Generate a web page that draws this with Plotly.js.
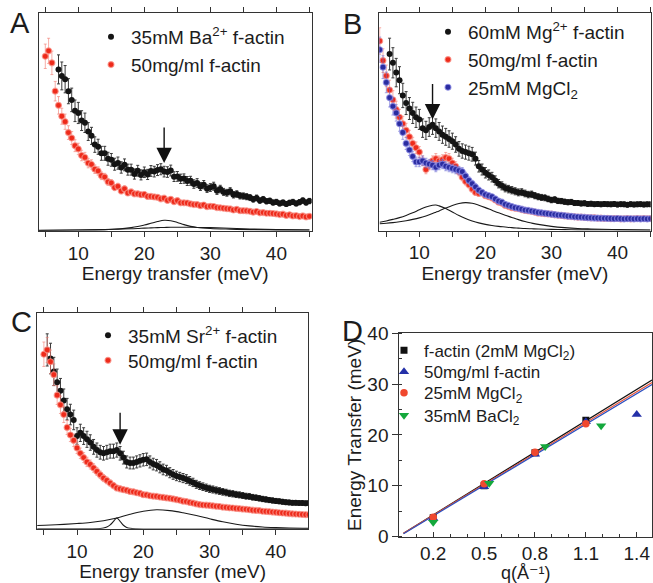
<!DOCTYPE html>
<html><head><meta charset="utf-8">
<script src="https://cdn.plot.ly/plotly-3.0.1.min.js"></script>
<style>html,body{margin:0;padding:0;background:#fff}#chart{width:653px;height:583px}</style>
</head><body><div id="chart"></div>
<script>
// ---- shared energy grid (meV) for panels A-C ----
const energy = [4,4.5,5,5.5,6,6.5,7,7.5,8,8.5,
 9,9.5,10,10.5,11,11.5,12,12.5,13,13.5,
 14,14.5,15,15.5,16,16.5,17,17.5,18,18.5,
 19,19.5,20,20.5,21,21.5,22,22.5,23,23.5,
 24,24.5,25,25.5,26,26.5,27,27.5,28,28.5,
 29,29.5,30,30.5,31,31.5,32,32.5,33,33.5,
 34,34.5,35,35.5,36,36.5,37,37.5,38,38.5,
 39,39.5,40,40.5,41,41.5,42,42.5,43,43.5,
 44,44.5,45];

// ---- Panel A (arb. units) ----
const aBa = [null,null,null,null,null,null,74,71,69.5,64,
 60,55,54,50.5,49.5,45.5,43.5,39.5,38.5,35.5,
 35.5,33,32.5,30.5,31,29,30.2,28,28,26,
 27.5,25.6,26.8,25.8,27.4,27.1,27.8,28.2,27.1,26.9,
 27.6,24.8,24.9,23.8,23.9,22.8,22.9,21.4,21.9,20.3,
 21.1,19.3,19.8,20.4,18.3,19.1,17.8,17.4,18.1,16.5,
 16.8,16,15.9,15.6,15.2,14.4,15,13.8,14.4,13.5,
 13.7,12.9,13.2,12.5,12.9,12.3,12.8,13.2,12.5,13.1,
 13.8,12.9,13.6];
const aRef = [null,null,80,82.5,77,64,57.5,52.5,50,45,
 42.5,39,37.5,34.5,33.6,31,30.4,28.2,27.4,25.2,
 24.6,22.4,21.9,19.8,20.3,18.2,19.2,17.3,17.8,16.9,
 16.9,16.5,16.6,15.7,15.7,15.5,15.3,14.6,14.9,13.9,
 14.4,13.3,13.8,12.8,12.8,12.7,12.3,12,12,11.5,
 11.8,11,11.2,11.1,10.6,10.5,10.3,10.1,10,9.5,
 9.8,9.2,9.2,9.1,8.9,8.5,8.8,8.2,8.3,8,
 8,7.9,7.7,7.4,7.6,7,7.3,6.8,6.9,6.5,
 6.8,6.3,6.6];
const aFitE = [4,10,14,16,18,19,20,21,22,23,24,25,26,27,28,30,33,36,40,45];
const aFitPeak = [0.2,0.3,0.5,0.8,1.4,1.9,2.6,3.4,4.2,4.8,4.6,3.8,2.8,2.0,1.5,1.0,0.7,0.5,0.4,0.3];
const aFitBroad = [0.1,0.3,0.5,0.7,0.9,1.0,1.2,1.3,1.4,1.5,1.6,1.6,1.6,1.6,1.5,1.4,1.1,0.8,0.5,0.3];

// ---- Panel B ----
const bMg = [null,null,null,81,77,72.5,69,62,58.5,56,
 54,52,51,47,46,47.5,48.5,47,45.5,44,
 43,42,41,39.5,37.5,36.5,36,35.5,35,33,
 29.5,28,26.5,25.5,24.5,23,21.5,20.5,19.5,19,
 18.5,18,17.5,17.6,17,16.5,16.6,16,15.5,15.2,
 15,14.5,14,14.2,13.6,13.5,13.2,13,13.1,12.6,
 12.6,12.4,12.5,12.2,12.3,12.1,12.2,12,12.2,12.1,
 12,12.2,11.9,12.1,12,11.8,12.1,11.9,12,12.1,
 11.9,12,12];
const bRef = [87,78,71,64.5,60,55.5,52,49,46,43,
 40,38,36,32,28,30,32,33,32,32.5,
 33.5,33,31,29.5,27,24.5,22.5,21,19,17.5,
 17,17.2,16,15.5,15,14,13,12.5,11.5,11,
 10.5,10.2,10,9.6,9.2,9,8.8,8.4,8,7.9,
 7.7,7.6,7.5,7.2,7,6.9,6.7,6.6,6.4,6.3,
 6.1,6.2,6,5.9,5.8,5.9,5.6,5.7,5.5,5.6,
 5.4,5.5,5.5,5.3,5.4,5.5,5.3,5.4,5.5,5.4,
 5.5,5.4,5.5];
const bMgCl = [83,75,68,61,57,54,49,45,40,37,
 34,31.5,31.5,32,31,30.5,30,29,30,30.5,
 29.5,29,28.5,28,27.5,27,25,23,21.5,20,
 18.5,17.5,16.5,16,15.5,14.5,13.5,13,12,11.5,
 11,10.5,10.2,9.8,9.4,9.2,8.9,8.6,8.3,8.1,
 7.9,7.7,7.5,7.3,7.1,7,6.8,6.6,6.5,6.3,
 6.2,6.1,6,5.9,5.8,5.7,5.7,5.6,5.6,5.5,
 5.5,5.4,5.5,5.4,5.3,5.4,5.4,5.3,5.4,5.3,
 5.4,5.3,5.4];
const bFitE = [4,5,6,7,8,9,10,11,12,12.5,13,14,15,16,17,18,19,20,21,22,23,24,25,26,27,28,30,32,34,36,40,45];
const bFitLow = [3.8,4.4,5.1,5.9,6.9,8.1,9.5,10.8,11.6,11.7,11.3,10.1,8.5,6.9,5.5,4.4,3.5,2.8,2.3,1.9,1.6,1.3,1.1,0.9,0.8,0.7,0.5,0.4,0.3,0.3,0.2,0.1];
const bFitHigh = [3.1,3.3,3.6,4.0,4.5,5.1,5.8,6.7,7.8,8.4,9.0,10.3,11.5,12.4,12.8,12.5,11.6,10.5,9.3,8.1,7.0,6.0,5.0,4.1,3.4,2.8,1.9,1.3,0.9,0.7,0.4,0.2];

// ---- Panel C ----
const cSr = [null,null,null,83,79,73,68,64,59.5,55.5,
 53,50.5,43,44.5,43,41.5,40,38,36.5,35.5,
 35,35.5,36,36,36.5,35,33,31,30.5,30.5,
 31,31.5,32,32.2,31,30,29.5,28.5,27.5,27,
 26,25.2,24.5,24,23.5,23,22.2,21.5,20.6,20,
 19.5,19,18.5,18.2,17.8,17.5,17.1,16.8,16.4,16.2,
 15.9,15.7,15.4,15.1,15,14.6,14.4,14.1,13.8,13.6,
 13.3,13.1,12.9,12.7,12.5,12.3,12.2,12,12,11.9,
 11.9,11.8,11.9];
const cRef = [null,null,81,83,77.5,71.5,62,57.5,53,47,
 43.5,41,37.5,35,33,31,29.8,28.2,26.6,25,
 23.5,22.4,21.2,20,18.9,18.5,18.1,17.8,17.3,17.1,
 16.7,16.4,15.8,15.7,15.3,15.1,15,14.7,14.5,14.3,
 14.1,13.8,13.5,13.2,12.8,12.6,12.2,11.9,11.5,11.2,
 11,10.9,10.8,10.6,10.4,10.3,10,9.9,9.7,9.6,
 9.4,9.3,9.1,9,8.8,8.6,8.5,8.4,8.1,8,
 7.9,7.7,7.6,7.4,7.3,7.2,7,6.9,6.8,6.7,
 6.6,6.5,6.5];
const cFitNarrowE = [4,12,13.5,14,14.5,15,15.5,16,16.5,17,17.5,18,19,45];
const cFitNarrow = [0,0,0.1,0.3,0.8,1.8,3.4,5.0,3.4,1.6,0.6,0.2,0,0];
const cFitBroadE = [4,6,8,10,12,14,16,18,20,22,24,26,28,30,32,34,36,38,40,42,45];
const cFitBroad = [1.5,1.7,2.0,2.4,2.9,3.7,5.0,6.7,8.1,8.8,8.4,7.4,6.1,4.6,3.2,2.1,1.3,0.8,0.5,0.3,0.2];

// ---- Panel D ----
const qFactin = [0.2,0.5,0.8,1.1];
const eFactin = [3.7,10.0,16.5,22.9];
const q50 = [0.2,0.5,0.8,1.1,1.4];
const e50 = [3.6,9.8,16.2,22.6,24.0];
const q25 = [0.2,0.5,0.8,1.1];
const e25 = [3.8,10.4,16.6,22.2];
const q35 = [0.2,0.53,0.86,1.19];
const e35 = [2.8,10.5,17.7,21.8];
const fitQ = [0.025,1.49];
const fitFactin = [0.65,30.8];
const fitMgCl = [0.65,30.3];
const fit50 = [0.55,29.9];

const FONT = 'Liberation Sans, Arial, Helvetica, DejaVu Sans, sans-serif';
const TXT = '#1c1c1c';
const BLK = '#141414', RED = '#ee2a1a', BLU = '#2a2ca0';

function dataTrace(x, y, xa, ya, name, color, ecolor, size, leg, pct, halo){
  return {x:x, y:y, xaxis:xa, yaxis:ya, type:'scatter', mode:'markers', name:name,
    legend:leg, marker:{color:color, size:size, line:{width:halo ? 1.2 : 0, color:halo || color}},
    error_y:{type:'percent', value:pct, color:ecolor, thickness:1, width:1.5}};
}
function fitTrace(x, y, xa, ya){
  return {x:x, y:y, xaxis:xa, yaxis:ya, type:'scatter', mode:'lines', showlegend:false,
    hoverinfo:'skip', line:{color:'#1a1a1a', width:1.1, shape:'spline', smoothing:1}};
}
const RHALO = 'rgba(250,150,140,0.75)', BHALO = 'rgba(140,140,230,0.75)';
const RERR = 'rgba(240,120,110,0.6)', BERR = 'rgba(110,110,210,0.6)';

const traces = [
  dataTrace(energy, aBa, 'x', 'y', '35mM Ba<sup>2+</sup> f-actin', BLK, '#3a3a3a', 6, 'legend', 9),
  dataTrace(energy, aRef, 'x', 'y', '50mg/ml f-actin', RED, RERR, 6, 'legend', 7, RHALO),
  fitTrace(aFitE, aFitPeak, 'x', 'y'),
  fitTrace(aFitE, aFitBroad, 'x', 'y'),

  dataTrace(energy, bMg, 'x2', 'y2', '60mM Mg<sup>2+</sup> f-actin', BLK, '#3a3a3a', 6, 'legend2', 9),
  dataTrace(energy, bRef, 'x2', 'y2', '50mg/ml f-actin', RED, RERR, 6, 'legend2', 7, RHALO),
  dataTrace(energy, bMgCl, 'x2', 'y2', '25mM MgCl<sub>2</sub>', BLU, BERR, 6, 'legend2', 7, BHALO),
  fitTrace(bFitE, bFitLow, 'x2', 'y2'),
  fitTrace(bFitE, bFitHigh, 'x2', 'y2'),

  dataTrace(energy, cSr, 'x3', 'y3', '35mM Sr<sup>2+</sup> f-actin', BLK, '#3a3a3a', 6, 'legend3', 9),
  dataTrace(energy, cRef, 'x3', 'y3', '50mg/ml f-actin', RED, RERR, 6, 'legend4', 7, RHALO),
  fitTrace(cFitNarrowE, cFitNarrow, 'x3', 'y3'),
  fitTrace(cFitBroadE, cFitBroad, 'x3', 'y3'),

  {x:fitQ, y:fitFactin, xaxis:'x4', yaxis:'y4', mode:'lines', showlegend:false, line:{color:'#111', width:1.2}},
  {x:fitQ, y:fitMgCl, xaxis:'x4', yaxis:'y4', mode:'lines', showlegend:false, line:{color:'#e8553a', width:1.2}},
  {x:fitQ, y:fit50, xaxis:'x4', yaxis:'y4', mode:'lines', showlegend:false, line:{color:'#2b4fc0', width:1.2}},
  {x:qFactin, y:eFactin, xaxis:'x4', yaxis:'y4', mode:'markers', name:'f-actin (2mM MgCl<sub>2</sub>)', legend:'legend5',
    marker:{symbol:'square', color:'#111', size:7}},
  {x:q50, y:e50, xaxis:'x4', yaxis:'y4', mode:'markers', name:'50mg/ml f-actin', legend:'legend6',
    marker:{symbol:'triangle-up', color:'#2430a8', size:9}},
  {x:q25, y:e25, xaxis:'x4', yaxis:'y4', mode:'markers', name:'25mM MgCl<sub>2</sub>', legend:'legend7',
    marker:{symbol:'circle', color:'#f0482e', size:7.5}},
  {x:q35, y:e35, xaxis:'x4', yaxis:'y4', mode:'markers', name:'35mM BaCl<sub>2</sub>', legend:'legend8',
    marker:{symbol:'triangle-down', color:'#14a83c', size:9}}
];

function eAxis(domain, anchor, range){
  return {domain:domain, anchor:anchor, range:range, tick0:0, dtick:10,
    ticks:'outside', ticklen:5, tickwidth:1, tickcolor:'#333',
    showline:true, linecolor:'#333', linewidth:1, mirror:'ticks',
    showgrid:false, zeroline:false,
    minor:{dtick:5, tick0:0, ticks:'outside', ticklen:5, tickwidth:1, tickcolor:'#333', showgrid:false},
    tickfont:{size:19, color:TXT},
    title:{text:'Energy transfer (meV)', font:{size:19, color:TXT}, standoff:0}};
}
function iAxis(domain, anchor){
  return {domain:domain, anchor:anchor, range:[0,100], showline:true, linecolor:'#333', linewidth:1,
    mirror:true, ticks:'', showticklabels:false, showgrid:false, zeroline:false};
}
function legendAt(xpx, ypx, size){
  return {x:xpx/653, y:1-ypx/583, xanchor:'left', yanchor:'top', bgcolor:'rgba(0,0,0,0)',
    borderwidth:0, font:{size:size, color:TXT}, itemsizing:'trace', tracegroupgap:0};
}
function panelLabel(t, cx, cy){
  return {xref:'paper', yref:'paper', x:cx/653, y:1-cy/583, text:t, showarrow:false,
    xanchor:'center', yanchor:'middle', font:{size:29, color:TXT}};
}
function arrow(xa, ya, x, yTip, yTail){
  return {xref:xa, yref:ya, axref:xa, ayref:ya, x:x, y:yTip, ax:x, ay:yTail, text:'',
    showarrow:true, arrowhead:2, arrowsize:2.2, arrowwidth:1.4, arrowcolor:'#111', standoff:0};
}

const DX0 = 399.3/653, DX1 = 652/653, DY0 = 1-536.5/583, DY1 = 1-333.3/583;

const layout = {
  width:653, height:583, margin:{l:0, r:0, t:0, b:0},
  paper_bgcolor:'#fff', plot_bgcolor:'rgba(0,0,0,0)',
  font:{family:FONT, color:TXT},
  showlegend:true,
  xaxis: eAxis([38.7/653, 311.7/653], 'y', [4.0, 45.35]),
  yaxis: iAxis([1-230.7/583, 1-12.7/583], 'x'),
  xaxis2: eAxis([379.3/653, 650.5/653], 'y2', [3.94, 45.0]),
  yaxis2: iAxis([1-230.5/583, 1-12.7/583], 'x2'),
  xaxis3: eAxis([37/653, 308.3/653], 'y3', [3.96, 44.9]),
  yaxis3: iAxis([1-528.7/583, 1-313.3/583], 'x3'),
  xaxis4: {domain:[DX0, DX1], anchor:'y4', range:[0, 1.49], tick0:0.2, dtick:0.3,
    ticks:'inside', ticklen:5, tickcolor:'#333', showline:true, linecolor:'#333', mirror:true,
    showgrid:false, zeroline:false,
    minor:{tick0:0.2, dtick:0.1, ticks:'inside', ticklen:3, tickcolor:'#333', showgrid:false},
    tickfont:{size:19, color:TXT},
    title:{text:'q(Å⁻¹)', font:{size:18, color:TXT}, standoff:1}},
  yaxis4: {domain:[DY0, DY1], anchor:'x4', range:[0, 40], dtick:10,
    ticks:'outside', ticklen:6, tickcolor:'#333', showline:true, linecolor:'#333', mirror:true,
    showgrid:false, zeroline:false,
    minor:{dtick:5, ticks:'inside', ticklen:3, tickcolor:'#333', showgrid:false},
    tickfont:{size:19, color:TXT},
    title:{text:'Energy Transfer (meV)', font:{size:19, color:TXT}, standoff:0}},
  xaxis5: {overlaying:'x4', anchor:'y4', side:'top', range:[0, 1.49], tick0:0.2, dtick:0.1,
    ticks:'inside', ticklen:4, tickcolor:'#333', showticklabels:false, showline:false, showgrid:false, zeroline:false},
  yaxis5: {overlaying:'y4', anchor:'x4', side:'right', range:[0, 40], dtick:5,
    ticks:'inside', ticklen:4, tickcolor:'#333', showticklabels:false, showline:false, showgrid:false, zeroline:false},
  legend: legendAt(91, 18, 19),
  legend2: legendAt(428, 13, 19),
  legend3: legendAt(88, 316.5, 19),
  legend4: legendAt(88, 341.5, 19),
  legend5: legendAt(384, 332.6, 17),
  legend6: legendAt(384, 354.3, 17),
  legend7: legendAt(384, 375.3, 17),
  legend8: legendAt(384, 397.6, 17),
  annotations: [
    panelLabel('A', 20.3, 23.3), panelLabel('B', 352.5, 24), panelLabel('C', 21, 321.7), panelLabel('D', 352.5, 331),
    arrow('x', 'y', 23, 31, 48),
    arrow('x2', 'y2', 12, 51, 68),
    arrow('x3', 'y3', 16.5, 39, 54.5)
  ]
};

Plotly.newPlot('chart', traces, layout, {staticPlot:true, displayModeBar:false});
</script>
</body></html>
